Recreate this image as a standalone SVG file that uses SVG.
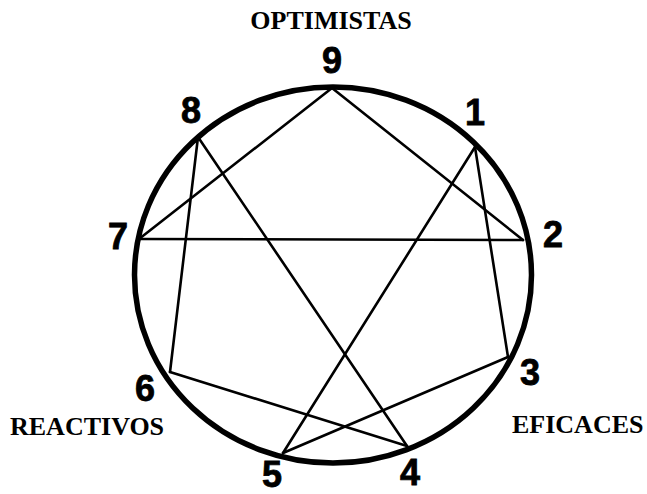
<svg xmlns="http://www.w3.org/2000/svg" width="647" height="494" viewBox="0 0 647 494">
<style>
.num{font-family:"Liberation Sans",Arial,sans-serif;font-weight:bold;font-size:36px;fill:#000;text-anchor:middle;stroke:#000;stroke-width:0.8}
.lab{font-family:"Liberation Serif","Times New Roman",serif;font-weight:bold;font-size:26px;fill:#000}
.ln{stroke:#000;stroke-width:2.6;fill:none;stroke-linecap:round}
</style>
<rect width="647" height="494" fill="#fff"/>
<g id="circle"><ellipse cx="333" cy="275" rx="198.5" ry="188" fill="none" stroke="#000" stroke-width="5.5"/></g>
<g id="connectors">
<line class="ln" x1="332" y1="88" x2="139" y2="239"/>
<line class="ln" x1="332" y1="88" x2="523" y2="240"/>
<line class="ln" x1="139" y1="239" x2="523" y2="240"/>
<line class="ln" x1="198" y1="137" x2="170" y2="372"/>
<line class="ln" x1="198" y1="137" x2="407" y2="446"/>
<line class="ln" x1="170" y1="372" x2="407" y2="446"/>
<line class="ln" x1="475" y1="147" x2="283" y2="453"/>
<line class="ln" x1="475" y1="147" x2="508" y2="357"/>
<line class="ln" x1="283" y1="453" x2="508" y2="357"/>
</g>
<g id="n9"><text class="num" x="332" y="73">9</text></g>
<g id="n8"><text class="num" x="191" y="123">8</text></g>
<g id="n1"><text class="num" x="475" y="125">1</text></g>
<g id="n2"><text class="num" x="553" y="247">2</text></g>
<g id="n7"><text class="num" x="118" y="249">7</text></g>
<g id="n3"><text class="num" x="530" y="385">3</text></g>
<g id="n6"><text class="num" x="145" y="401">6</text></g>
<g id="n5"><text class="num" x="272" y="487">5</text></g>
<g id="n4"><text class="num" x="410" y="485">4</text></g>
<g id="labels">
<text class="lab" x="331" y="29" text-anchor="middle">OPTIMISTAS</text>
<text class="lab" x="10" y="435">REACTIVOS</text>
<text class="lab" x="512" y="433">EFICACES</text>
</g>
</svg>
